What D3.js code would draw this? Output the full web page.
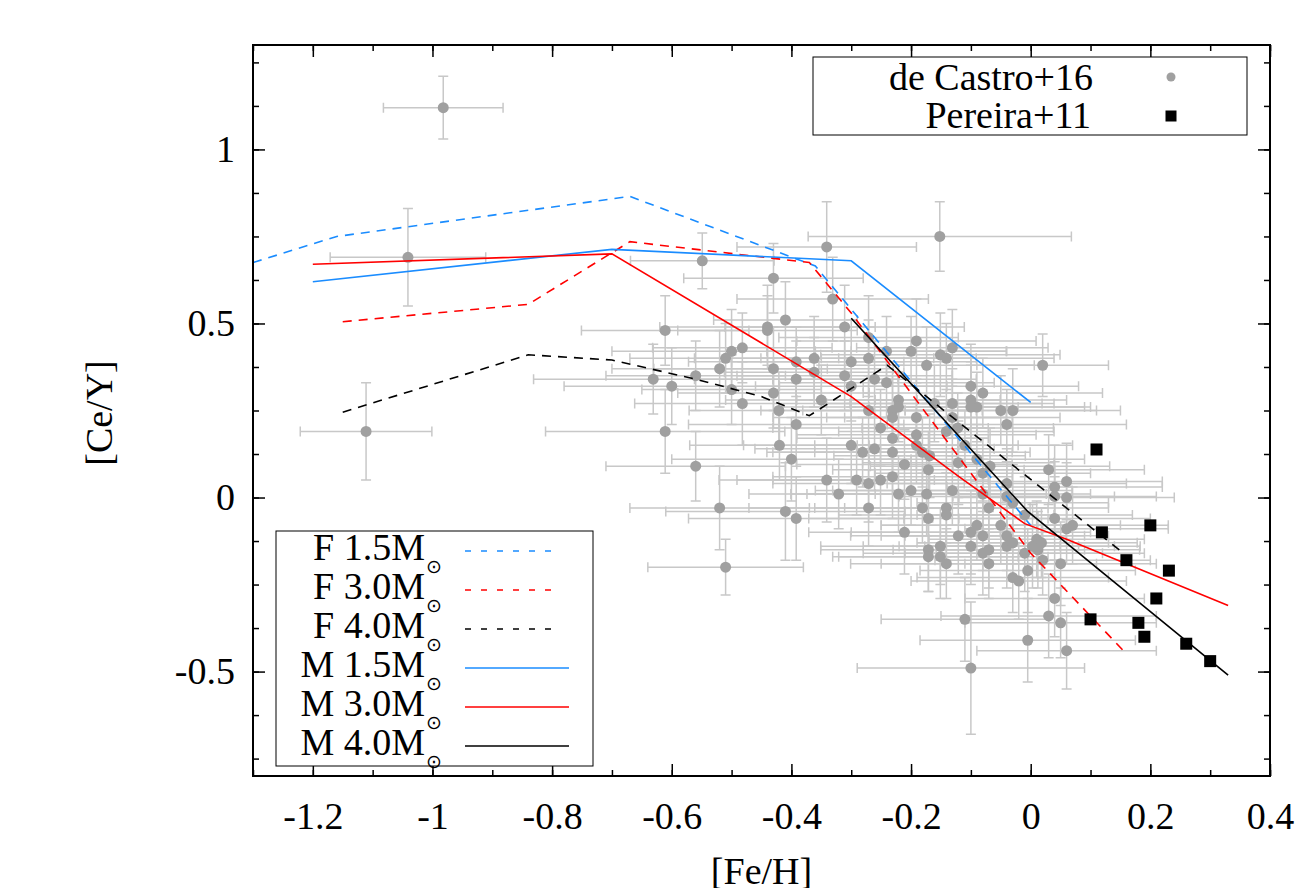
<!DOCTYPE html>
<html lang="en">
<head>
    <meta charset="UTF-8">
    <title>[Ce/Y] vs [Fe/H]</title>
    <style>
        body { margin: 0; background: #fff; }
        text { font-family: "Liberation Serif", "Times New Roman", serif; fill: #000; }
    </style>
</head>
<body>
    <svg id="chart" width="1303" height="888"></svg>
    <script src="https://d3js.org/d3.v7.min.js"></script>
    <script>
        // de Castro+16: [Fe/H], [Ce/Y], err [Fe/H], err [Ce/Y]
        var deCastro = [
            [-0.982, 1.12, 0.10, 0.09], [-1.041, 0.69, 0.13, 0.14], [-1.111, 0.19, 0.11, 0.14],
            [-0.152, 0.75, 0.22, 0.10], [-0.341, 0.72, 0.15, 0.13], [-0.549, 0.68, 0.12, 0.08],
            [-0.43, 0.63, 0.15, 0.10], [-0.331, 0.57, 0.16, 0.12], [-0.611, 0.48, 0.14, 0.10],
            [-0.41, 0.51, 0.12, 0.11], [-0.44, 0.49, 0.18, 0.12], [-0.44, 0.48, 0.15, 0.10],
            [-0.311, 0.49, 0.20, 0.12], [-0.482, 0.43, 0.15, 0.10], [-0.50, 0.42, 0.20, 0.12],
            [-0.51, 0.40, 0.16, 0.10], [-0.52, 0.37, 0.18, 0.11], [-0.56, 0.35, 0.15, 0.10],
            [-0.631, 0.34, 0.20, 0.10], [-0.60, 0.32, 0.18, 0.11], [-0.43, 0.37, 0.20, 0.12],
            [-0.392, 0.39, 0.18, 0.10], [-0.362, 0.40, 0.20, 0.12], [-0.362, 0.36, 0.15, 0.10],
            [-0.392, 0.34, 0.17, 0.11], [-0.311, 0.35, 0.18, 0.10], [-0.30, 0.39, 0.20, 0.12],
            [-0.30, 0.32, 0.16, 0.10], [-0.271, 0.40, 0.18, 0.11], [-0.271, 0.46, 0.15, 0.12],
            [-0.241, 0.42, 0.20, 0.10], [-0.261, 0.34, 0.17, 0.11], [-0.241, 0.33, 0.18, 0.10],
            [-0.191, 0.45, 0.20, 0.12], [-0.20, 0.42, 0.16, 0.10], [-0.174, 0.38, 0.18, 0.11],
            [-0.50, 0.31, 0.15, 0.10], [-0.482, 0.27, 0.18, 0.12], [-0.43, 0.30, 0.16, 0.10],
            [-0.421, 0.25, 0.15, 0.11], [-0.392, 0.21, 0.18, 0.12], [-0.35, 0.28, 0.16, 0.10],
            [-0.611, 0.19, 0.20, 0.12], [-0.42, 0.15, 0.15, 0.10], [-0.40, 0.11, 0.20, 0.12],
            [-0.56, 0.09, 0.15, 0.10], [-0.30, 0.15, 0.18, 0.11], [-0.281, 0.13, 0.16, 0.10],
            [-0.261, 0.14, 0.20, 0.12], [-0.271, 0.25, 0.18, 0.10], [-0.231, 0.25, 0.15, 0.11],
            [-0.231, 0.23, 0.20, 0.12], [-0.221, 0.28, 0.17, 0.10], [-0.251, 0.20, 0.18, 0.11],
            [-0.231, 0.17, 0.16, 0.10], [-0.231, 0.13, 0.20, 0.12], [-0.211, 0.095, 0.18, 0.10],
            [-0.191, 0.23, 0.15, 0.11], [-0.191, 0.18, 0.20, 0.10], [-0.341, 0.05, 0.18, 0.12],
            [-0.291, 0.05, 0.20, 0.10], [-0.271, 0.04, 0.16, 0.11], [-0.251, 0.05, 0.18, 0.10],
            [-0.231, 0.06, 0.20, 0.12], [-0.321, 0.01, 0.15, 0.10], [-0.221, 0.01, 0.18, 0.11],
            [-0.20, 0.02, 0.16, 0.10], [-0.174, 0.01, 0.20, 0.12], [-0.52, -0.03, 0.15, 0.12],
            [-0.41, -0.04, 0.20, 0.14], [-0.392, -0.06, 0.18, 0.12], [-0.271, -0.03, 0.20, 0.11],
            [-0.211, -0.10, 0.16, 0.12], [-0.181, -0.03, 0.18, 0.10], [-0.171, -0.06, 0.20, 0.11],
            [-0.141, -0.03, 0.17, 0.10], [-0.141, -0.05, 0.18, 0.12], [-0.131, 0.02, 0.20, 0.10],
            [-0.171, 0.08, 0.16, 0.11], [-0.171, -0.15, 0.18, 0.12], [-0.171, -0.17, 0.15, 0.10],
            [-0.151, -0.14, 0.20, 0.11], [-0.151, -0.17, 0.18, 0.12], [-0.141, -0.19, 0.16, 0.10],
            [-0.121, -0.11, 0.18, 0.11], [-0.10, -0.10, 0.20, 0.12], [-0.09, -0.08, 0.16, 0.10],
            [-0.10, -0.14, 0.18, 0.11], [-0.08, -0.11, 0.17, 0.10], [-0.08, -0.16, 0.20, 0.12],
            [-0.07, -0.15, 0.16, 0.11], [-0.07, -0.19, 0.18, 0.10], [-0.07, -0.03, 0.20, 0.11],
            [-0.08, 0.01, 0.18, 0.10], [-0.121, 0.10, 0.16, 0.12], [-0.09, 0.11, 0.18, 0.10],
            [-0.05, -0.08, 0.20, 0.11], [-0.04, -0.11, 0.17, 0.10], [-0.04, -0.14, 0.18, 0.12],
            [-0.03, -0.13, 0.16, 0.10], [-0.01, -0.16, 0.20, 0.11], [-0.005, -0.21, 0.18, 0.12],
            [-0.03, -0.23, 0.16, 0.10], [-0.02, -0.24, 0.18, 0.11], [-0.11, -0.35, 0.14, 0.12],
            [-0.005, -0.41, 0.18, 0.12], [-0.10, -0.49, 0.19, 0.19], [-0.51, -0.20, 0.13, 0.08],
            [-0.01, -0.05, 0.18, 0.11], [-0.04, 0.04, 0.20, 0.10], [-0.03, -0.015, 0.16, 0.11],
            [-0.04, 0.003, 0.18, 0.10], [-0.151, 0.41, 0.20, 0.12], [-0.141, 0.40, 0.18, 0.10],
            [-0.131, 0.43, 0.16, 0.11], [0.02, 0.38, 0.11, 0.09], [-0.10, 0.32, 0.18, 0.12],
            [-0.08, 0.30, 0.20, 0.10], [-0.10, 0.28, 0.16, 0.11], [-0.09, 0.26, 0.18, 0.10],
            [-0.10, 0.26, 0.20, 0.12], [-0.131, 0.27, 0.17, 0.10], [-0.161, 0.27, 0.18, 0.11],
            [-0.05, 0.25, 0.16, 0.10], [-0.03, 0.25, 0.18, 0.12], [-0.04, 0.21, 0.20, 0.10],
            [-0.131, 0.23, 0.18, 0.11], [-0.122, 0.20, 0.16, 0.10], [-0.141, 0.19, 0.18, 0.12],
            [-0.221, 0.26, 0.20, 0.10], [-0.191, 0.15, 0.17, 0.11], [-0.181, 0.13, 0.18, 0.10],
            [-0.169, 0.12, 0.16, 0.12], [-0.08, 0.07, 0.18, 0.10], [-0.068, 0.09, 0.20, 0.11],
            [0.03, 0.08, 0.16, 0.10], [0.04, 0.03, 0.18, 0.12], [0.04, 0.003, 0.17, 0.10],
            [0.06, 0.046, 0.16, 0.11], [0.06, 0.0, 0.18, 0.10], [0.04, -0.06, 0.16, 0.12],
            [0.01, -0.12, 0.18, 0.11], [0.018, -0.13, 0.16, 0.10], [0.003, -0.14, 0.18, 0.12],
            [0.06, -0.09, 0.17, 0.10], [0.07, -0.08, 0.16, 0.11], [0.02, -0.18, 0.18, 0.10],
            [0.05, -0.19, 0.16, 0.12], [0.04, -0.29, 0.15, 0.11], [0.03, -0.34, 0.18, 0.12],
            [0.05, -0.36, 0.16, 0.10], [0.06, -0.44, 0.15, 0.11], [-0.11, 0.15, 0.18, 0.10],
            [0.012, -0.15, 0.17, 0.11]
        ];

        // Pereira+11: [Fe/H], [Ce/Y]
        var pereiraFeH = [0.11, 0.119, 0.20, 0.16, 0.231, 0.21, 0.10, 0.18, 0.19, 0.26, 0.30];
        var pereiraCeY = [0.138, -0.10, -0.08, -0.18, -0.21, -0.29, -0.35, -0.36, -0.40, -0.42, -0.47];

        // models: [Fe/H], [Ce/Y]
        var modelF15 = [[-1.3, 0.675], [-1.16, 0.75], [-0.67, 0.865], [-0.36, 0.665], [0.0, -0.08]];
        var modelF30 = [[-1.15, 0.505], [-0.84, 0.555], [-0.67, 0.735], [-0.37, 0.675], [-0.30, 0.53], [0.0, -0.16], [0.155, -0.44]];
        var modelF40 = [[-1.15, 0.245], [-0.84, 0.41], [-0.70, 0.395], [-0.56, 0.34], [-0.45, 0.29], [-0.37, 0.235], [-0.24, 0.38], [0.155, -0.16]];
        var modelM15 = [[-1.2, 0.62], [-0.70, 0.713], [-0.30, 0.68], [0.0, 0.273]];
        var modelM30 = [[-1.2, 0.67], [-0.70, 0.70], [-0.30, 0.29], [-0.12, 0.06], [-0.01, -0.075], [0.06, -0.12], [0.33, -0.31]];
        var modelM40 = [[-0.30, 0.515], [-0.005, -0.04], [0.33, -0.51]];

        var xTicks = [-1.2, -1, -0.8, -0.6, -0.4, -0.2, 0, 0.2, 0.4];
        var yTicks = [-0.5, 0, 0.5, 1];

        var models = [
            { name: "F 1.5", data: modelF15, color: "#1a8cff", dash: "9,7" },
            { name: "F 3.0", data: modelF30, color: "#ff0000", dash: "9,7" },
            { name: "F 4.0", data: modelF40, color: "#000000", dash: "9,7" },
            { name: "M 1.5", data: modelM15, color: "#1a8cff", dash: null },
            { name: "M 3.0", data: modelM30, color: "#ff0000", dash: null },
            { name: "M 4.0", data: modelM40, color: "#000000", dash: null }
        ];

        var margin = { top: 45, right: 33, bottom: 112, left: 253 },
            width = 1303 - margin.left - margin.right,
            height = 888 - margin.top - margin.bottom;

        var svg = d3.select("#chart")
                    .append("g")
                    .attr("transform", "translate(" + margin.left + "," + margin.top + ")");

        var x = d3.scaleLinear().domain([-1.3, 0.4]).range([0, width]);
        var y = d3.scaleLinear().domain([-0.8, 1.3]).range([height, 0]);

        svg.append("clipPath").attr("id", "clip")
           .append("rect").attr("width", width).attr("height", height);

        var fontSize = 38;

        // axes, ticks pointing inward
        var xMinor = d3.range(-1.3, 0.41, 0.1).map(function(v) { return +v.toFixed(2); });
        var yMinor = d3.range(-0.75, 1.3, 0.125);

        function drawAxis(axis, transform, labels) {
            var g = svg.append("g").attr("transform", transform).call(axis);
            g.select(".domain").remove();
            g.selectAll(".tick line").attr("stroke", "#000").attr("stroke-width", 1.5);
            if (!labels) g.selectAll("text").remove();
            else g.selectAll("text").style("font-size", fontSize + "px")
                  .style("font-family", "Liberation Serif");
            return g;
        }

        var fmt = function(d) { return String(d); };
        drawAxis(d3.axisBottom(x).tickValues(xMinor).tickSize(-6).tickFormat(""), "translate(0," + height + ")", false);
        drawAxis(d3.axisTop(x).tickValues(xMinor).tickSize(-6).tickFormat(""), "translate(0,0)", false);
        drawAxis(d3.axisBottom(x).tickValues(xTicks).tickSize(-12).tickPadding(26).tickFormat(fmt), "translate(0," + height + ")", true);
        drawAxis(d3.axisTop(x).tickValues(xTicks).tickSize(-12).tickFormat(""), "translate(0,0)", false);
        drawAxis(d3.axisLeft(y).tickValues(yMinor).tickSize(-6).tickFormat(""), "translate(0,0)", false);
        drawAxis(d3.axisRight(y).tickValues(yMinor).tickSize(-6).tickFormat(""), "translate(" + width + ",0)", false);
        drawAxis(d3.axisLeft(y).tickValues(yTicks).tickSize(-12).tickPadding(18).tickFormat(fmt), "translate(0,0)", true);
        drawAxis(d3.axisRight(y).tickValues(yTicks).tickSize(-12).tickFormat(""), "translate(" + width + ",0)", false);

        var plot = svg.append("g").attr("clip-path", "url(#clip)");

        // error bars
        var cap = 5;
        var eb = plot.append("g").attr("stroke", "#c8c8c8").attr("stroke-width", 1.5).attr("fill", "none");
        deCastro.forEach(function(d) {
            var cx = x(d[0]), cy = y(d[1]);
            var x0 = x(d[0] - d[2]), x1 = x(d[0] + d[2]);
            var y0 = y(d[1] - d[3]), y1 = y(d[1] + d[3]);
            eb.append("path").attr("d",
                "M" + x0 + "," + cy + "H" + x1 +
                "M" + x0 + "," + (cy - cap) + "V" + (cy + cap) +
                "M" + x1 + "," + (cy - cap) + "V" + (cy + cap) +
                "M" + cx + "," + y0 + "V" + y1 +
                "M" + (cx - cap) + "," + y0 + "H" + (cx + cap) +
                "M" + (cx - cap) + "," + y1 + "H" + (cx + cap));
        });

        plot.selectAll(".pt")
            .data(deCastro)
            .enter().append("circle")
            .attr("class", "pt")
            .attr("cx", function(d) { return x(d[0]); })
            .attr("cy", function(d) { return y(d[1]); })
            .attr("r", 5.5)
            .attr("fill", "#a0a0a0");

        var line = d3.line().x(function(d) { return x(d[0]); }).y(function(d) { return y(d[1]); });

        plot.selectAll(".model")
            .data(models)
            .enter().append("path")
            .attr("class", "model")
            .attr("d", function(d) { return line(d.data); })
            .attr("fill", "none")
            .attr("stroke", function(d) { return d.color; })
            .attr("stroke-width", 1.6)
            .attr("stroke-dasharray", function(d) { return d.dash; });

        var sq = 12;
        plot.selectAll(".sq")
            .data(pereiraFeH)
            .enter().append("rect")
            .attr("class", "sq")
            .attr("x", function(d) { return x(d) - sq / 2; })
            .attr("y", function(d, i) { return y(pereiraCeY[i]) - sq / 2; })
            .attr("width", sq)
            .attr("height", sq)
            .attr("fill", "#000");

        // frame
        svg.append("rect")
           .attr("width", width).attr("height", height)
           .attr("fill", "none").attr("stroke", "#000").attr("stroke-width", 2);

        // axis labels
        svg.append("text")
           .attr("x", width / 2).attr("y", 884 - margin.top)
           .attr("text-anchor", "middle")
           .style("font-size", fontSize + "px")
           .text("[Fe/H]");

        svg.append("text")
           .attr("transform", "translate(" + (112 - margin.left) + "," + (413 - margin.top) + ") rotate(-90)")
           .attr("text-anchor", "middle")
           .style("font-size", fontSize + "px")
           .text("[Ce/Y]");

        // data legend (top right)
        var lg = d3.select("#chart").append("g");
        lg.append("rect").attr("x", 813).attr("y", 57).attr("width", 434).attr("height", 78)
          .attr("fill", "#fff").attr("stroke", "#000").attr("stroke-width", 1);
        lg.append("text").attr("x", 1093).attr("y", 90).attr("text-anchor", "end")
          .style("font-size", fontSize + "px").text("de Castro+16");
        lg.append("circle").attr("cx", 1171).attr("cy", 77).attr("r", 4.5).attr("fill", "#a0a0a0");
        lg.append("text").attr("x", 1091).attr("y", 128).attr("text-anchor", "end")
          .style("font-size", fontSize + "px").text("Pereira+11");
        lg.append("rect").attr("x", 1171 - 5.5).attr("y", 116 - 5.5).attr("width", 11).attr("height", 11)
          .attr("fill", "#000");

        // model legend (bottom left)
        var ml = d3.select("#chart").append("g");
        ml.append("rect").attr("x", 276).attr("y", 531).attr("width", 317).attr("height", 235)
          .attr("fill", "#fff").attr("stroke", "#000").attr("stroke-width", 1);
        models.forEach(function(m, i) {
            var base = 560 + i * 39;
            ml.append("text").attr("x", 425).attr("y", base).attr("text-anchor", "end")
              .style("font-size", fontSize + "px").text(m.name + "M");
            ml.append("text").attr("x", 426).attr("y", base + 13)
              .style("font-size", "19px").style("font-family", "DejaVu Sans").text("\u2299");
            ml.append("line")
              .attr("x1", 465).attr("x2", m.dash ? 561 : 569)
              .attr("y1", base - 9).attr("y2", base - 9)
              .attr("stroke", m.color).attr("stroke-width", 1.6)
              .attr("stroke-dasharray", m.dash ? "6,10" : null);
        });
    </script>
</body>
</html>
